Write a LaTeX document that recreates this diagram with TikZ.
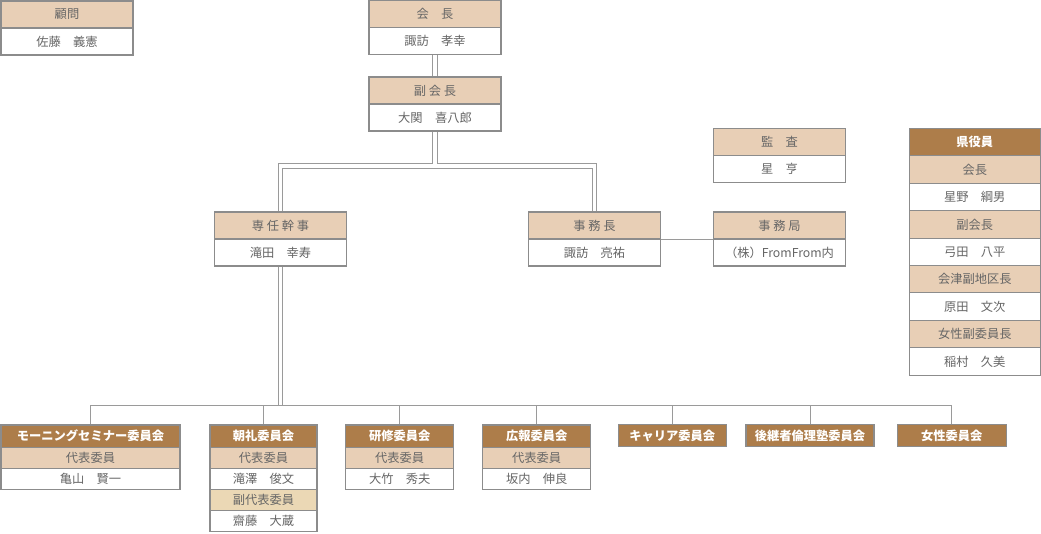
\documentclass[tikz,border=0pt]{standalone}
\usepackage{fontspec}
\setmainfont{Noto Sans CJK JP}
\usetikzlibrary{positioning,backgrounds}

\definecolor{boxline}{HTML}{8C8C8C}
\definecolor{linegray}{HTML}{9A9A9A}
\definecolor{peach}{HTML}{E8CFB6}
\definecolor{wheat}{HTML}{EBD8B5}
\definecolor{darkhead}{HTML}{AD7D4A}
\definecolor{textgray}{HTML}{666666}

\begin{document}
\begin{tikzpicture}[x=0.75pt,y=-0.75pt]
	\tikzset{cell/.style={draw=boxline,line width=0.8pt,inner sep=0pt,outer sep=0pt,minimum width=99pt,minimum height=20.25pt,text=textgray,font=\fontsize{9.2}{11}\selectfont}}
	\tikzset{hd/.style={cell,fill=peach}, bd/.style={cell,fill=white}, sub/.style={cell,fill=wheat}}
	\tikzset{dk/.style={cell,fill=darkhead,text=white,font=\fontsize{9.2}{11}\selectfont\bfseries}}
	\tikzset{ch/.style={dk,minimum height=16.7pt}, cr/.style={minimum height=15.8pt}, bw/.style={minimum width=#1}}
	\tikzset{dbl/.style={draw=linegray,line width=0.75pt,double=white,double distance=2.6pt}, ln/.style={draw=linegray,line width=0.75pt}}
	\useasboundingbox (0,0) rectangle (1041,533);

	% top boxes
	\node[hd,anchor=north west] (komon) at (1,1) {顧問};
	\node[bd,below=0pt of komon] (komonN) {佐藤　義憲};
	\node[hd,anchor=north west] (kaicho) at (369,0.5) {会　長};
	\node[bd,below=0pt of kaicho] (kaichoN) {諏訪　孝幸};
	\node[hd,anchor=north west] (fuku) at (369,77) {副 会 長};
	\node[bd,below=0pt of fuku] (fukuN) {大関　喜八郎};
	\node[hd,anchor=north west] (sennin) at (214.5,212) {専 任 幹 事};
	\node[bd,below=0pt of sennin] (senninN) {滝田　幸寿};
	\node[hd,anchor=north west] (jimucho) at (528.5,212) {事 務 長};
	\node[bd,below=0pt of jimucho] (jimuchoN) {諏訪　亮祐};
	\node[hd,anchor=north west] (kansa) at (713.5,128.5) {監　査};
	\node[bd,below=0pt of kansa] (kansaN) {星　亨};
	\node[hd,anchor=north west] (jimukyoku) at (713.5,212) {事 務 局};
	\node[bd,below=0pt of jimukyoku] (jimukyokuN) {（株）FromFrom内};

	% prefecture officers
	\node[dk,bw=98.25pt,minimum height=20.55pt,anchor=north west] (ken0) at (909.3,128.5) {県役員};
	\foreach \s/\t [count=\i, remember=\i as \j (initially 0)] in {hd/会長,bd/星野　綱男,hd/副会長,bd/弓田　八平,hd/会津副地区長,bd/原田　文次,hd/女性副委員長,bd/稲村　久美}
		\node[\s,bw=98.25pt,minimum height=20.55pt,below=0pt of ken\j] (ken\i) {\t};

	% committees
	\node[ch,bw=134.25pt,anchor=north west] (morning) at (1,425) {モーニングセミナー委員会};
	\node[hd,cr,bw=134.25pt,below=0pt of morning] (morning1) {代表委員};
	\node[bd,cr,bw=134.25pt,below=0pt of morning1] (morning2) {亀山　賢一};
	\node[ch,bw=80.25pt,anchor=north west] (chorei) at (210,425) {朝礼委員会};
	\node[hd,cr,bw=80.25pt,below=0pt of chorei] (chorei1) {代表委員};
	\node[bd,cr,bw=80.25pt,below=0pt of chorei1] (chorei2) {滝澤　俊文};
	\node[sub,cr,bw=80.25pt,below=0pt of chorei2] (chorei3) {副代表委員};
	\node[bd,cr,bw=80.25pt,below=0pt of chorei3] (chorei4) {齋藤　大蔵};
	\node[ch,bw=81pt,anchor=north west] (kenshu) at (345.7,425) {研修委員会};
	\node[hd,cr,bw=81pt,below=0pt of kenshu] (kenshu1) {代表委員};
	\node[bd,cr,bw=81pt,below=0pt of kenshu1] (kenshu2) {大竹　秀夫};
	\node[ch,bw=81pt,anchor=north west] (koho) at (482.7,425) {広報委員会};
	\node[hd,cr,bw=81pt,below=0pt of koho] (koho1) {代表委員};
	\node[bd,cr,bw=81pt,below=0pt of koho1] (koho2) {坂内　伸良};
	\node[ch,bw=81pt,anchor=north west] (career) at (618.3,424.5) {キャリア委員会};
	\node[ch,bw=96pt,anchor=north west] (kokei) at (746,424.5) {後継者倫理塾委員会};
	\node[ch,bw=81.75pt,anchor=north west] (josei) at (897.3,424.5) {女性委員会};

	% connectors
	\begin{scope}[on background layer]
		\draw[dbl] (kaichoN.south) -- (fuku.north);
		\coordinate (split) at (fukuN.south |- 0,165.8);
		\draw[dbl] (fukuN.south) -- (split) -| (sennin.north) (fukuN.south) -- (split) -| (jimucho.north);
		\coordinate (bus) at (senninN.south |- 0,405);
		\draw[dbl] (senninN.south) -- (bus);
		\foreach \c in {morning,chorei,kenshu,koho,career,kokei,josei}
			\draw[ln] (\c.north) |- (bus);
		\draw[ln] (jimucho.south east) -- (jimukyoku.south west);
	\end{scope}
\end{tikzpicture}
\end{document}
